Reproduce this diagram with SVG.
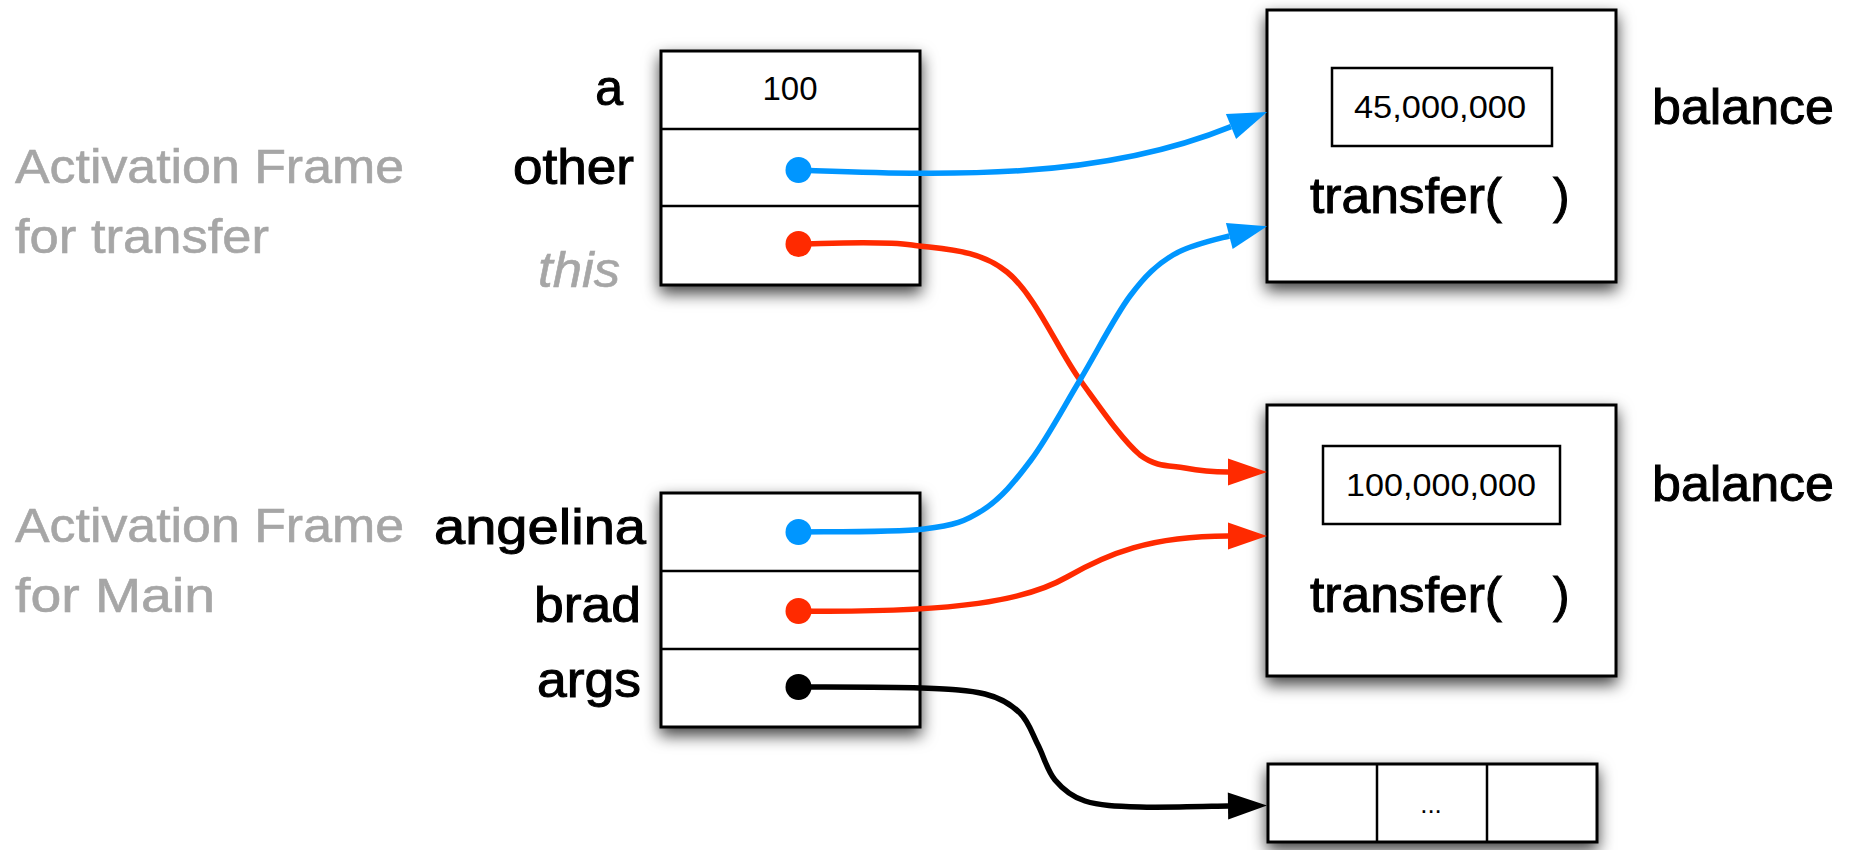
<svg xmlns="http://www.w3.org/2000/svg" width="1858" height="850" viewBox="0 0 1858 850">
<style>
.box{fill:#fff;stroke:#000;stroke-width:3;filter:url(#sh)}
.div{stroke:#000;stroke-width:2.5;fill:none}
.inner{fill:#fff;stroke:#000;stroke-width:2.5}
.lbl{font-family:"Liberation Sans",Arial,sans-serif;font-size:50px;fill:#000;stroke:#000;stroke-width:1}
.gray{font-family:"Liberation Sans",Arial,sans-serif;font-size:48px;fill:#a6a6a6;stroke:#a6a6a6;stroke-width:0.6}
.val{font-family:"Liberation Sans",Arial,sans-serif;font-size:32px;fill:#000}
.c{fill:none;stroke-width:5.5}
</style>
<defs>
<filter id="sh" x="-20%" y="-20%" width="140%" height="150%">
<feDropShadow dx="0" dy="7" stdDeviation="8" flood-color="#000" flood-opacity="0.75"/>
</filter>
<marker id="ab" markerUnits="userSpaceOnUse" markerWidth="40" markerHeight="28" refX="0" refY="13.5" orient="auto" overflow="visible"><path d="M0,0 L39,13.5 L0,27 Z" fill="#0096ff"/></marker>
<marker id="ar" markerUnits="userSpaceOnUse" markerWidth="40" markerHeight="28" refX="0" refY="13.5" orient="auto" overflow="visible"><path d="M0,0 L39,13.5 L0,27 Z" fill="#ff2a00"/></marker>
<marker id="ak" markerUnits="userSpaceOnUse" markerWidth="40" markerHeight="28" refX="0" refY="13.5" orient="auto" overflow="visible"><path d="M0,0 L39,13.5 L0,27 Z" fill="#000"/></marker>
</defs>
<rect width="1858" height="850" fill="#fff"/>

<g id="label-transfer-frame">
<text class="gray" x="15" y="183" textLength="389" lengthAdjust="spacingAndGlyphs">Activation Frame</text>
<text class="gray" x="15" y="253" textLength="254" lengthAdjust="spacingAndGlyphs">for transfer</text>
</g>
<g id="label-main-frame">
<text class="gray" x="15" y="542" textLength="389" lengthAdjust="spacingAndGlyphs">Activation Frame</text>
<text class="gray" x="15" y="612" textLength="200" lengthAdjust="spacingAndGlyphs">for Main</text>
</g>

<g id="frame-transfer">
<rect class="box" x="661" y="51" width="259" height="234"/>
<line class="div" x1="661" y1="129" x2="920" y2="129"/>
<line class="div" x1="661" y1="206" x2="920" y2="206"/>
<text class="val" x="790" y="100" text-anchor="middle" style="font-size:33px">100</text>
<text class="lbl" x="623" y="105" text-anchor="end">a</text>
<text class="lbl" x="634" y="184" text-anchor="end" textLength="121" lengthAdjust="spacingAndGlyphs">other</text>
<text class="lbl" x="620" y="287" text-anchor="end" font-style="italic" style="fill:#a6a6a6;stroke:#a6a6a6;stroke-width:0.6" textLength="82" lengthAdjust="spacingAndGlyphs">this</text>
</g>

<g id="frame-main">
<rect class="box" x="661" y="493" width="259" height="234"/>
<line class="div" x1="661" y1="571" x2="920" y2="571"/>
<line class="div" x1="661" y1="649" x2="920" y2="649"/>
<text class="lbl" x="646" y="544" text-anchor="end" textLength="212" lengthAdjust="spacingAndGlyphs">angelina</text>
<text class="lbl" x="641" y="622" text-anchor="end" textLength="107" lengthAdjust="spacingAndGlyphs">brad</text>
<text class="lbl" x="641" y="697" text-anchor="end" textLength="104" lengthAdjust="spacingAndGlyphs">args</text>
</g>

<g id="account-1">
<rect class="box" x="1267" y="10" width="349" height="272"/>
<rect class="inner" x="1332" y="68" width="220" height="78"/>
<text class="val" x="1440" y="118" text-anchor="middle" textLength="172" lengthAdjust="spacingAndGlyphs">45,000,000</text>
<text class="lbl" x="1310" y="213" textLength="192" lengthAdjust="spacingAndGlyphs">transfer(</text>
<text class="lbl" x="1553" y="213">)</text>
<text class="lbl" x="1652" y="124" textLength="182" lengthAdjust="spacingAndGlyphs">balance</text>
</g>

<g id="account-2">
<rect class="box" x="1267" y="405" width="349" height="271"/>
<rect class="inner" x="1323" y="446" width="237" height="78"/>
<text class="val" x="1441" y="496" text-anchor="middle" textLength="190" lengthAdjust="spacingAndGlyphs">100,000,000</text>
<text class="lbl" x="1310" y="612" textLength="192" lengthAdjust="spacingAndGlyphs">transfer(</text>
<text class="lbl" x="1553" y="612">)</text>
<text class="lbl" x="1652" y="501" textLength="182" lengthAdjust="spacingAndGlyphs">balance</text>
</g>

<g id="args-array">
<rect class="box" x="1268" y="764" width="329" height="78"/>
<line class="div" x1="1377" y1="764" x2="1377" y2="842"/>
<line class="div" x1="1487" y1="764" x2="1487" y2="842"/>
<text class="val" x="1431" y="813" text-anchor="middle" style="font-size:26px">...</text>
</g>

<g id="connectors">
<path class="c" stroke="#0096ff" marker-end="url(#ab)" d="M798,170 C950,176 1100,180 1231,126.6"/>
<circle cx="798.5" cy="170" r="13" fill="#0096ff"/>
<path class="c" stroke="#ff2a00" marker-end="url(#ar)" d="M798,244 C817,244.2 877,240.3 912,245 C946.8,249.7 979,249.5 1007,272 C1035,294.5 1057.8,349.5 1080,380 C1102.2,410.5 1122.5,440.3 1140,455 C1157.5,468 1170.3,465.2 1185,468 C1199.7,470.8 1214,472 1228,472"/>
<circle cx="798.5" cy="244" r="13" fill="#ff2a00"/>
<path class="c" stroke="#0096ff" marker-end="url(#ab)" d="M798,532 C819,531.5 893.2,532.7 924,529 C954.8,525.3 965.2,521.5 983,510 C1000.8,498.5 1014.8,481.7 1031,460 C1047.2,438.3 1063.5,407.3 1080,380 C1096.5,352.7 1114.5,316.8 1130,296 C1145.5,275.2 1156.5,265 1173,255 C1189.5,245 1214.5,239.8 1229.3,236"/>
<circle cx="798.5" cy="532" r="13" fill="#0096ff"/>
<path class="c" stroke="#ff2a00" marker-end="url(#ar)" d="M798,611 C960,613 1027,600 1067,577 C1107,554 1150,536 1228,536"/>
<circle cx="798.5" cy="611" r="13" fill="#ff2a00"/>
<path class="c" stroke="#000" marker-end="url(#ak)" d="M798,687 C818.3,687.2 888.8,686.8 920,688 C951.2,689.2 968.3,689.8 985,694 C1001.7,698.2 1011.2,704.5 1020,713 C1028.8,721.5 1032.2,733.8 1038,745 C1043.8,756.2 1047.2,770.7 1055,780 C1062.8,789.3 1070.8,796.5 1085,801 C1099.2,805.5 1116.2,806.2 1140,807 C1163.8,807.8 1213.3,806.2 1228,806"/>
<circle cx="798.5" cy="687" r="13" fill="#000"/>
</g>
</svg>
